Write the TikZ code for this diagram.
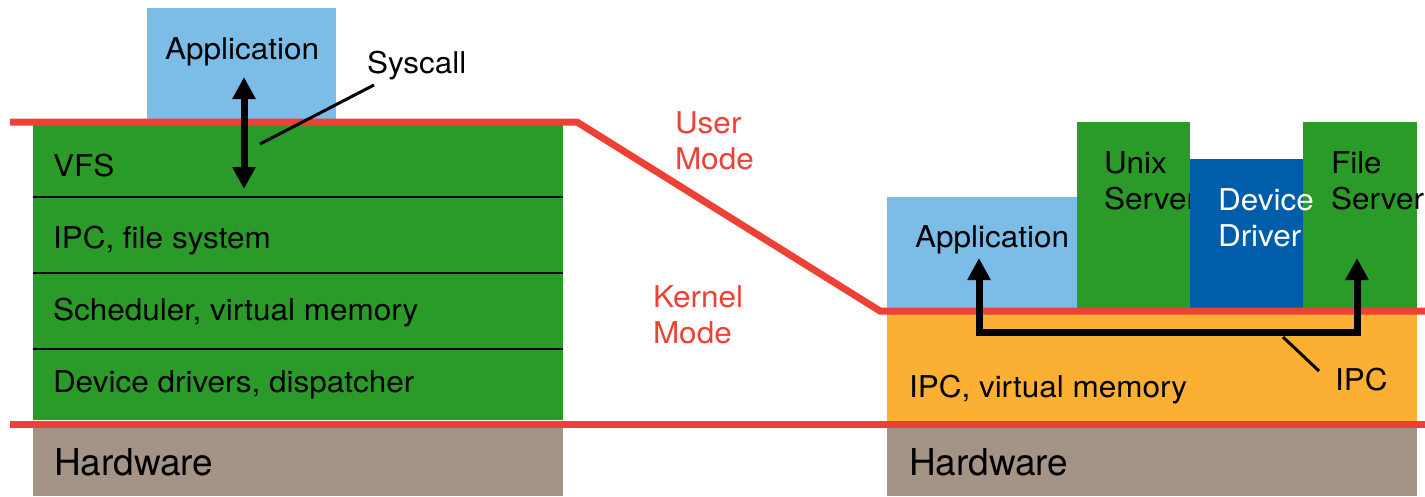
\documentclass[tikz,border=0pt]{standalone}
\usepackage{fontspec}
\setmainfont{TeX Gyre Heros}
\newfontfamily\widehv[FakeStretch=1.05]{TeX Gyre Heros}
\usetikzlibrary{arrows.meta}
\definecolor{appblue}{HTML}{7CBDE8}
\definecolor{kgreen}{HTML}{2A9A29}
\definecolor{drvblue}{HTML}{005DA9}
\definecolor{korange}{HTML}{FBB034}
\definecolor{hwgray}{HTML}{A39486}
\definecolor{modered}{HTML}{EE4136}
\newcommand\twoln[2]{\vtop{\hbox{#1}\hbox{#2}}}
\begin{document}
\begin{tikzpicture}[x=1pt,y=-1pt,
  font=\widehv\fontsize{30}{36}\selectfont,
  box/.style={draw=none, inner sep=0pt, outer sep=0pt, anchor=north west},
  txt/.style={anchor=base west, inner sep=0pt, outer sep=0pt},
  hwtxt/.style={txt, font=\normalfont\fontsize{37}{40}\selectfont},
  modeline/.style={draw=modered, line width=7pt},
  sepline/.style={draw=black, line width=2pt},
  fatarrow/.style={draw=black, line width=7pt, line join=miter,
    arrows={Triangle[length=22pt,width=22pt]-Triangle[length=22pt,width=22pt]}},
  pointer/.style={draw=black, line width=3pt},
  modetxt/.style={txt, text=modered}]
\useasboundingbox (0,0) rectangle (1425,496);

% ---- left: monolithic kernel
\node[box, fill=appblue, minimum width=189pt, minimum height=114pt] (app1) at (147,8) {};
\node[box, fill=kgreen, minimum width=530pt, minimum height=298pt] (kern) at (33,122) {};
\node[box, fill=hwgray, minimum width=530pt, minimum height=69pt] (hw1) at (33,427) {};
\draw[sepline] (33,197) -- (563,197);
\draw[sepline] (33,273) -- (563,273);
\draw[sepline] (33,349) -- (563,349);

\node[txt] (app1t) at (165,59) {Application};
\node[txt] (sysc) at (367,73) {Syscall};
\node[txt] (vfs) at (53,176) {VFS};
\node[txt] (ipcfs) at (53,248) {IPC, file system};
\node[txt] (sched) at (53,320) {Scheduler, virtual memory};
\node[txt] (devdr) at (53,392) {Device drivers, dispatcher};
\node[hwtxt] (hw1t) at (54,475) {Hardware};

% ---- right: microkernel
\node[box, fill=appblue, minimum width=190pt, minimum height=114pt] (app2) at (887,197) {};
\node[box, fill=kgreen, minimum width=113pt, minimum height=189pt] (unix) at (1077,122) {};
\node[txt] (unixt) at (1104,173) {\twoln{Unix}{Server}};
\node[box, fill=drvblue, minimum width=113pt, minimum height=152pt] (drv) at (1190,159) {};
\node[box, fill=kgreen, minimum width=114pt, minimum height=189pt] (file) at (1303,122) {};
\node[txt] (filet) at (1331,173) {\twoln{File}{Server}};
\node[txt, text=white] (drvt) at (1218,210) {\twoln{Device}{Driver}};
\node[box, fill=korange, minimum width=530pt, minimum height=113pt] (ipcvm) at (887,311) {};
\node[box, fill=hwgray, minimum width=530pt, minimum height=69pt] (hw2) at (887,427) {};
\node[txt] (app2t) at (915,247) {Application};
\node[txt] (ipcvmt) at (909,397) {IPC, virtual memory};
\node[hwtxt] (hw2t) at (909,475) {Hardware};
\node[txt] (ipct) at (1335,390) {IPC};

% ---- mode boundary
\node[modetxt] (umode) at (675,133) {\twoln{User}{Mode}};
\node[modetxt] (kmode) at (653,307) {\twoln{Kernel}{Mode}};
\draw[modeline] (10,122) -- (577,122) -- (880,311) -- (1425,311);
\draw[modeline] (10,424) -- (1425,424);

% ---- connectors
\coordinate (sysT) at (244,77);
\coordinate (sysB) at (244,189);
\draw[fatarrow] (sysT) -- (sysB);
\coordinate (sysA) at (374,85);
\coordinate (sysE) at (260,144);
\draw[pointer] (sysA) -- (sysE);

\coordinate (ipcL) at (979,258);
\coordinate (ipcR) at (1357,258);
\coordinate (ipcM) at (1168,332);
\draw[fatarrow] (ipcL) |- (ipcM) -| (ipcR);
\coordinate (ipcA) at (1283,337);
\coordinate (ipcE) at (1319,371);
\draw[pointer] (ipcA) -- (ipcE);
\end{tikzpicture}
\end{document}
